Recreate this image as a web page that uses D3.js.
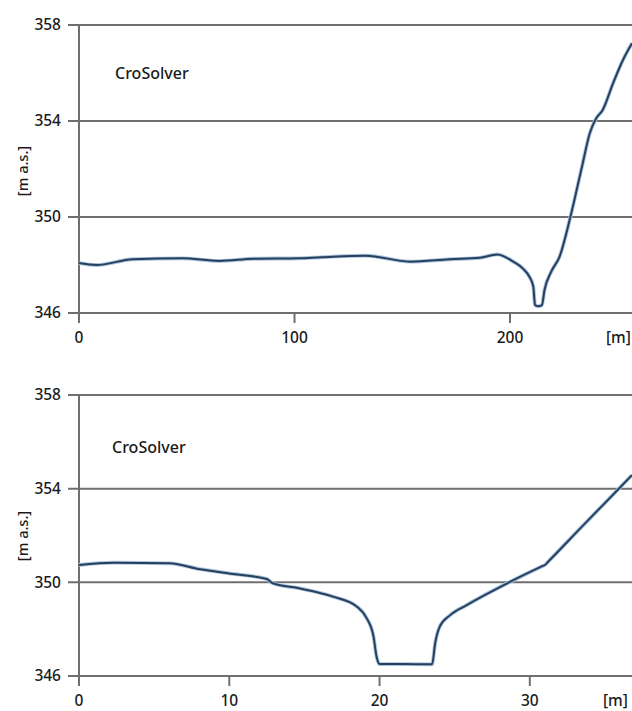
<!DOCTYPE html>
<html>
<head>
<meta charset="utf-8">
<script src="https://cdn.jsdelivr.net/npm/d3@7"></script>
<style>
  body { margin: 0; background: #fff; }
  svg { display: block; }
  text { font-family: "Noto Sans", "Open Sans", sans-serif; font-size: 15.5px; fill: #1a1a1a; font-weight: 500; }
</style>
</head>
<body>
<svg id="viz" width="632" height="711"></svg>
<script>
// Overview cross-section (station in m, elevation in m a.s.)
const topX = [0, 8, 25, 48, 65, 81, 102, 112, 133, 153.6, 172, 186, 194, 201.5, 206, 209, 210.8, 211.6, 213, 214.8, 216, 219, 223, 228, 233.4, 237, 240, 243, 247.8, 252.4, 256.6];
const topY = [348.08, 348.0, 348.24, 348.28, 348.17, 348.26, 348.28, 348.32, 348.39, 348.14, 348.24, 348.3, 348.44, 348.14, 347.85, 347.51, 347.1, 346.33, 346.28, 346.33, 346.96, 347.7, 348.35, 350.0, 352.1, 353.49, 354.11, 354.46, 355.57, 356.54, 357.24];

// Detail cross-section
const botX = [0, 2.3, 6.05, 8.05, 10.25, 12.5, 12.9, 14.7, 16.9, 18.5, 19.15, 19.6, 19.8, 20.0, 21.35, 23.5, 23.7, 24.0, 24.7, 25.8, 28.5, 30.9, 31.0, 31.2, 33.5, 36.0, 36.8];
const botY = [350.74, 350.84, 350.81, 350.56, 350.36, 350.14, 349.96, 349.74, 349.39, 348.96, 348.46, 347.68, 346.83, 346.51, 346.51, 346.5, 347.4, 348.1, 348.6, 349.03, 349.96, 350.71, 350.74, 350.87, 352.4, 354.05, 354.58];

const yTicks = [346, 350, 354, 358];
const topXTicks = [0, 100, 200];
const botXTicks = [0, 10, 20, 30];

const svg = d3.select("#viz");

function drawPanel(cfg) {
    const g = svg.append("g");
    const x = d3.scaleLinear().domain([0, cfg.xMax]).range([79, 632]);
    const y = d3.scaleLinear().domain([346, 358]).range([cfg.bottom, cfg.top]);

    // Horizontal gridlines with left ticks
    g.selectAll("line.grid")
        .data(yTicks)
        .join("line")
        .attr("x1", 68).attr("x2", 632)
        .attr("y1", d => y(d)).attr("y2", d => y(d))
        .attr("stroke", "#6f6f6f")
        .attr("stroke-width", 2);

    g.selectAll("text.ylab")
        .data(yTicks)
        .join("text")
        .attr("x", 61)
        .attr("y", d => y(d))
        .attr("dy", "0.35em")
        .attr("text-anchor", "end")
        .text(d => d);

    // Left axis line
    g.append("line")
        .attr("x1", 79).attr("x2", 79)
        .attr("y1", cfg.top).attr("y2", cfg.bottom + 10)
        .attr("stroke", "#6f6f6f")
        .attr("stroke-width", 2);

    // X ticks
    g.selectAll("line.xt")
        .data(cfg.xTicks.filter(d => d > 0))
        .join("line")
        .attr("x1", d => x(d)).attr("x2", d => x(d))
        .attr("y1", cfg.bottom).attr("y2", cfg.bottom + 10)
        .attr("stroke", "#6f6f6f")
        .attr("stroke-width", 2);

    g.selectAll("text.xlab")
        .data(cfg.xTicks)
        .join("text")
        .attr("x", d => x(d))
        .attr("y", cfg.bottom + cfg.labOff)
        .attr("text-anchor", "middle")
        .text(d => d);

    g.append("text")
        .attr("x", cfg.unitX)
        .attr("y", cfg.bottom + cfg.labOff)
        .attr("text-anchor", "start")
        .text("[m]");

    g.append("text")
        .attr("transform", `translate(28,${cfg.titleY}) rotate(-90)`)
        .attr("text-anchor", "middle")
        .style("font-size", "14.5px")
        .text("[m a.s.]");

    g.append("text")
        .attr("x", cfg.labelX)
        .attr("y", cfg.labelY)
        .style("font-size", "16px")
        .text("CroSolver");

    const data = cfg.xs.map((d, i) => [d, cfg.ys[i]]);
    const line = d3.line()
        .x(d => x(d[0]))
        .y(d => y(d[1]))
        .curve(d3.curveMonotoneX);

    g.append("path")
        .attr("d", line(data))
        .attr("fill", "none")
        .attr("stroke", "#a8c3dc")
        .attr("stroke-width", 3.8)
        .attr("stroke-linejoin", "round");

    g.append("path")
        .attr("d", line(data))
        .attr("fill", "none")
        .attr("stroke", "#26405e")
        .attr("stroke-width", 2)
        .attr("stroke-linejoin", "round");
}

drawPanel({ xs: topX, ys: topY, xMax: 256.6, top: 25, bottom: 313, xTicks: topXTicks,
    unitX: 606, labOff: 30, titleY: 171, labelX: 115, labelY: 79 });
drawPanel({ xs: botX, ys: botY, xMax: 36.8, top: 395, bottom: 676, xTicks: botXTicks,
    unitX: 603, labOff: 30, titleY: 536, labelX: 112, labelY: 453 });
</script>
</body>
</html>
